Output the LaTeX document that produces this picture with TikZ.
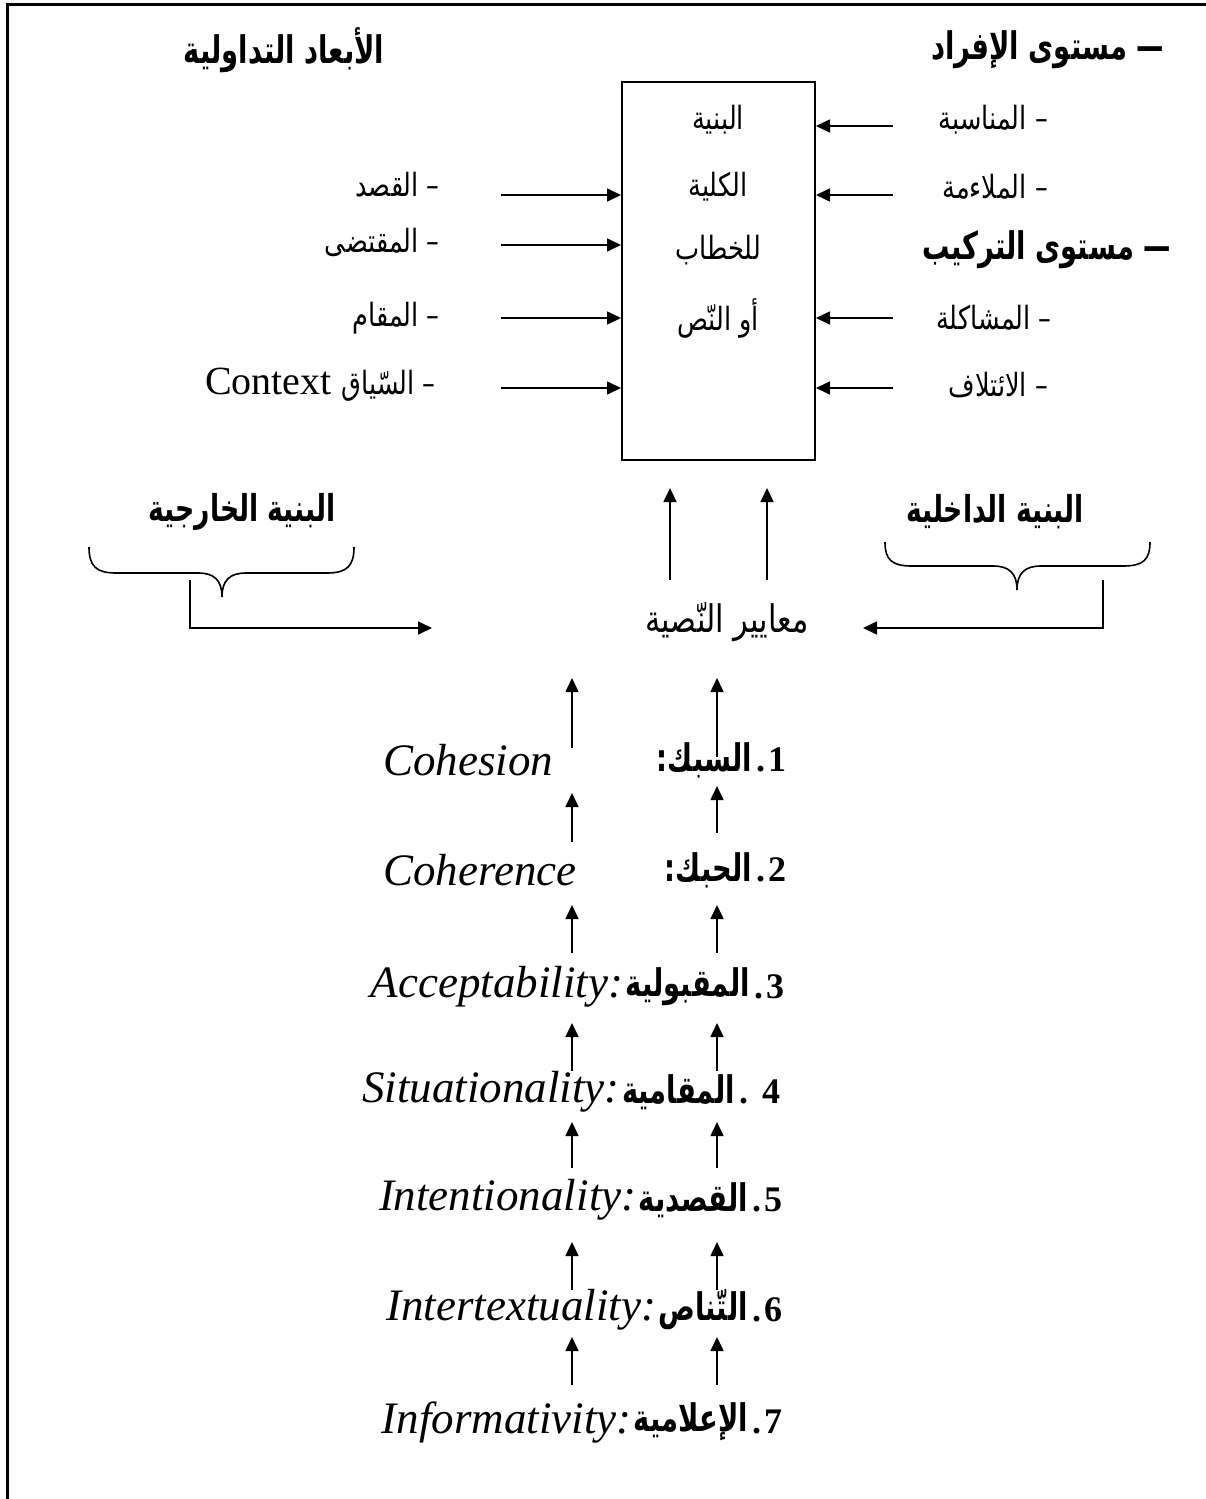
\documentclass[tikz,border=0pt]{standalone}
\usepackage{fontspec}
\setmainfont{Liberation Serif}
\newfontfamily\arabicfont[Script=Arabic,FakeStretch=0.8]{DejaVu Sans}
\newfontfamily\arabicbf[Script=Arabic,FakeStretch=0.72]{DejaVu Sans}
\TeXXeTstate=1
\usetikzlibrary{arrows.meta}
\newcommand\AR[1]{\beginR #1\endR}
\tikzset{
  txt/.style={inner sep=0pt, font=\arabicfont\fontsize{32}{36}\selectfont},
  crt/.style={inner sep=0pt, font=\arabicfont\fontsize{38}{42}\selectfont},
  hd/.style={inner sep=0pt, font=\arabicbf\bfseries\fontsize{38}{42}\selectfont},
  bhd/.style={inner sep=0pt, font=\arabicbf\bfseries\fontsize{37}{41}\selectfont},
  arb/.style={inner sep=0pt, font=\arabicbf\bfseries\fontsize{38}{42}\selectfont},
  en/.style={inner sep=0pt, font=\itshape\fontsize{45}{50}\selectfont},
  num/.style={inner sep=0pt, font=\bfseries\fontsize{36}{40}\selectfont},
  arr/.style={-{Triangle[length=14pt,width=13pt]}, line width=1.6pt},
  ln/.style={line width=1.6pt},
  frame/.style={line width=3pt}
}
\begin{document}
\begin{tikzpicture}[x=1pt,y=-1pt]
\useasboundingbox (0,0) rectangle (1206,1499);
% frame (top and left only)
\draw[frame] (7,1499) -- (7,4) -- (1206,4);

% headings
\node[hd] (hL) at (284,50) {\AR{الأبعاد التداولية}};
\node[hd,anchor=east] (hR1) at (1164,50) {\AR{— مستوى الإفراد}};
\node[hd,anchor=east] (hR2) at (1171,250) {\AR{— مستوى التركيب}};

% central box
\node[draw, line width=2pt, minimum width=193pt, minimum height=378pt, inner sep=0pt] (box) at (718.5,271) {};
\node[txt] (b1) at (718,120) {\AR{البنية}};
\node[txt] (b2) at (718,187) {\AR{الكلية}};
\node[txt] (b3) at (718,250) {\AR{للخطاب}};
\node[txt] (b4) at (718,318) {\AR{أو النّص}};

% right side items
\node[txt,anchor=east] (r1) at (1048,120) {\AR{– المناسبة}};
\node[txt,anchor=east] (r2) at (1048,187) {\AR{– الملاءمة}};
\node[txt,anchor=east] (r3) at (1052,318) {\AR{– المشاكلة}};
\node[txt,anchor=east] (r4) at (1048,385) {\AR{– الائتلاف}};
\coordinate (ra1) at (893,126);
\coordinate (ra2) at (893,195);
\coordinate (ra3) at (893,318);
\coordinate (ra4) at (893,388);
\foreach \c in {ra1,ra2,ra3,ra4} \draw[arr] (\c) -- (\c -| box.east);

% left side items
\node[txt,anchor=east] (l1) at (440,185) {\AR{– القصد}};
\node[txt,anchor=east] (l2) at (440,242) {\AR{– المقتضى}};
\node[txt,anchor=east] (l3) at (440,318) {\AR{– المقام}};
\node[anchor=east,inner sep=0pt] (l4) at (436,385) {{\fontsize{40}{44}\selectfont Context}\hspace{10pt}{\arabicfont\fontsize{32}{36}\selectfont\AR{– السّياق}}};
\coordinate (la1) at (501,195);
\coordinate (la2) at (501,245);
\coordinate (la3) at (501,318);
\coordinate (la4) at (501,388);
\foreach \c in {la1,la2,la3,la4} \draw[arr] (\c) -- (\c -| box.west);

% braces and labels
\node[bhd] (bl) at (242,512) {\AR{البنية الخارجية}};
\node[bhd] (br) at (995,512) {\AR{البنية الداخلية}};
\draw[ln] (89,547) .. controls (89,566) and (96,573) .. (116,573) -- (198,573)
  .. controls (214,573) and (222,580) .. (222,597)
  .. controls (222,580) and (230,573) .. (246,573) -- (327,573)
  .. controls (347,573) and (354,566) .. (354,547);
\draw[ln] (885,542) .. controls (885,560) and (892,566) .. (912,566) -- (993,566)
  .. controls (1009,566) and (1017,573) .. (1017,590)
  .. controls (1017,573) and (1025,566) .. (1041,566) -- (1123,566)
  .. controls (1143,566) and (1150,560) .. (1150,542);

% criteria node
\node[crt] (crit) at (727,622) {\AR{معايير النّصية}};
\coordinate (cl) at (190,580);
\coordinate (cr) at (1103,580);
\draw[arr] (cl) -- (190,628) -- (432,628);
\draw[arr] (cr) -- (1103,628) -- (863,628);
\coordinate (u1) at (670,580);
\coordinate (u2) at (767,580);
\draw[arr] (u1) -- ([yshift=-27pt]u1 |- box.south);
\draw[arr] (u2) -- ([yshift=-27pt]u2 |- box.south);

% criteria list
\node[en,anchor=west] (e1) at (383,760) {Cohesion};
\node[arb,anchor=east] (a1) at (752,760) {\AR{السبك:}};
\node[num,anchor=west] (n1) at ([xshift=4pt]a1.east) {.\hspace{3pt}1};

\node[en,anchor=west] (e2) at (383,870) {Coherence};
\node[arb,anchor=east] (a2) at (752,870) {\AR{الحبك:}};
\node[num,anchor=west] (n2) at ([xshift=4pt]a2.east) {.\hspace{3pt}2};

\node[arb,anchor=east] (a3) at (750,987) {\AR{المقبولية}};
\node[en,anchor=east] (e3) at ([xshift=-2pt]a3.west) {Acceptability:};
\node[num,anchor=west] (n3) at ([xshift=4pt]a3.east) {.\hspace{3pt}3};

\node[arb,anchor=east] (a4) at (735,1092) {\AR{المقامية}};
\node[en,anchor=east] (e4) at ([xshift=-2pt]a4.west) {Situationality:};
\node[num,anchor=west] (n4) at ([xshift=4pt]a4.east) {.\hspace{14pt}4};

\node[arb,anchor=east] (a5) at (748,1200) {\AR{القصدية}};
\node[en,anchor=east] (e5) at ([xshift=-2pt]a5.west) {Intentionality:};
\node[num,anchor=west] (n5) at ([xshift=4pt]a5.east) {.\hspace{3pt}5};

\node[arb,anchor=east] (a6) at (748,1310) {\AR{التّناص}};
\node[en,anchor=east] (e6) at ([xshift=-2pt]a6.west) {Intertextuality:};
\node[num,anchor=west] (n6) at ([xshift=4pt]a6.east) {.\hspace{3pt}6};

\node[arb,anchor=east] (a7) at (748,1422) {\AR{الإعلامية}};
\node[en,anchor=east] (e7) at ([xshift=-2pt]a7.west) {Informativity:};
\node[num,anchor=west] (n7) at ([xshift=4pt]a7.east) {.\hspace{3pt}7};

% upward arrows between rows
\foreach \yt/\yh in {748/678, 842/793, 953/905, 1071/1023, 1168/1122, 1290/1242, 1385/1337}
  \draw[arr] (572,\yt) -- (572,\yh);
\foreach \yt/\yh in {757/678, 833/786, 953/905, 1071/1023, 1168/1122, 1290/1242, 1385/1337}
  \draw[arr] (717,\yt) -- (717,\yh);
\end{tikzpicture}
\end{document}
